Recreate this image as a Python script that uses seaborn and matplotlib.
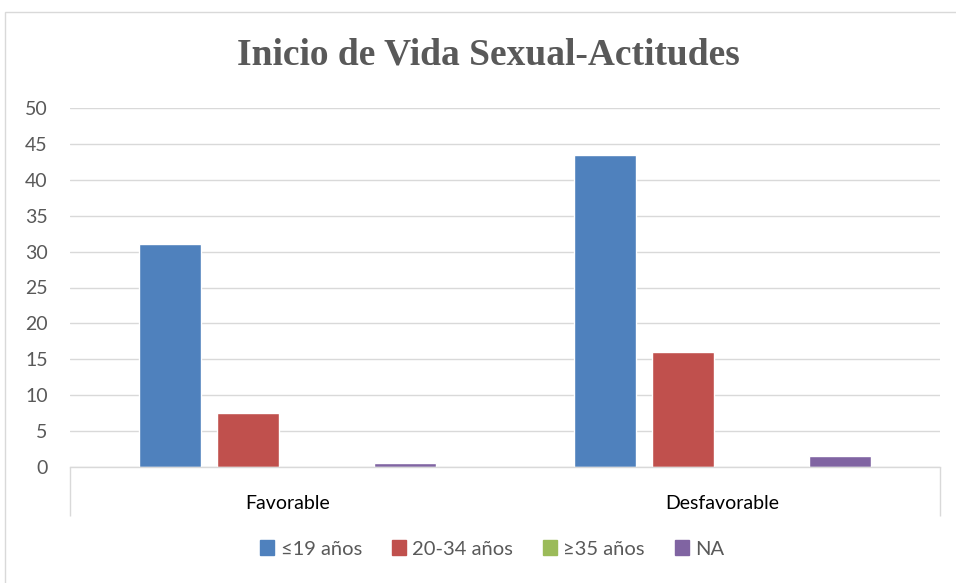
import matplotlib.pyplot as plt
import matplotlib.patches as mpatches
import pandas as pd
import seaborn as sns

# Data
categories = ['Favorable', 'Desfavorable']
series = ['≤19 años', '20-34 años', '≥35 años', 'NA']
values = {
    '≤19 años': [31, 43.5],
    '20-34 años': [7.5, 16],
    '≥35 años': [0, 0],
    'NA': [0.5, 1.5],
}
colors = ['#4F81BD', '#C0504D', '#9BBB59', '#8064A2']

df = pd.DataFrame(
    [(c, s, values[s][i]) for s in series for i, c in enumerate(categories)],
    columns=['actitud', 'edad', 'valor'],
)

sns.set_style('white')
plt.rcParams['font.family'] = ['Lato', 'DejaVu Sans']

fig = plt.figure(figsize=(9.56, 5.83), dpi=100)
ax = fig.add_axes([70 / 956, 1 - 467 / 583, 870 / 956, 359 / 583])

sns.barplot(data=df, x='actitud', y='valor', hue='edad', order=categories,
            hue_order=series, palette=colors, width=0.72, gap=0.21,
            saturation=1, ax=ax, legend=False)

ax.set_xlim(-0.5, 1.5)
ax.set_ylim(0, 50)
ax.set_yticks(range(0, 51, 5))
ax.yaxis.grid(True, color='#D9D9D9', linewidth=1)
ax.set_axisbelow(True)
for s in ['top', 'right', 'left']:
    ax.spines[s].set_visible(False)
ax.spines['bottom'].set_color('#D9D9D9')
ax.spines['bottom'].set_linewidth(1)
ax.set_xlabel('')
ax.set_ylabel('')

ax.tick_params(axis='y', length=0, labelsize=14, labelcolor='#595959', pad=16)
ax.tick_params(axis='x', which='major', length=0, labelsize=14, labelcolor='black', pad=20)
ax.set_xticks([-0.5, 1.5], minor=True)
ax.tick_params(axis='x', which='minor', bottom=True, length=35, color='#D9D9D9',
               width=1, direction='out')

fig.suptitle('Inicio de Vida Sexual-Actitudes', x=0.511, y=1 - 55 / 583, va='center',
             fontsize=27, fontweight='bold', color='#595959', family='Liberation Serif')

handles = [mpatches.Patch(color=c, label=s) for c, s in zip(colors, series)]
fig.legend(handles=handles, loc='center', bbox_to_anchor=(0.515, 1 - 549 / 583),
           ncol=4, frameon=False, fontsize=14.5, labelcolor='#595959',
           handlelength=0.7, handleheight=0.7, handletextpad=0.3, columnspacing=1.5)

fig.patches.append(mpatches.Rectangle((5 / 956, -0.1), 1.2, 1 - 12 / 583 + 0.1,
                                      transform=fig.transFigure, fill=False,
                                      edgecolor='#D9D9D9', linewidth=1))

fig.savefig('out.png', dpi=100)
